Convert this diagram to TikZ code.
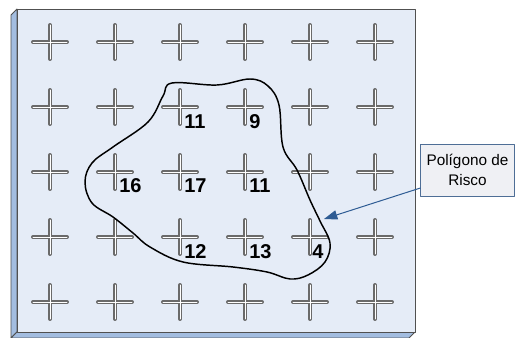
\documentclass[tikz,border=0pt]{standalone}
\usepackage{fontspec}
\setmainfont{Liberation Sans}
\usetikzlibrary{arrows.meta}
\definecolor{facefill}{HTML}{E5ECF7}
\definecolor{sidefill}{HTML}{A3BDE0}
\definecolor{edgegray}{HTML}{505050}
\definecolor{crossgray}{HTML}{6A6A6A}
\definecolor{boxfill}{HTML}{EFF0F4}
\definecolor{boxline}{HTML}{4E6E96}
\definecolor{arrowblue}{HTML}{2E5C94}

\begin{document}
\begin{tikzpicture}[x=0.75pt,y=-0.75pt,line join=round,
  crossmark/.style={draw=crossgray,line width=1.2pt,double=white,double distance=0.55pt,line cap=round},
  numlabel/.style={anchor=west,inner sep=0pt,font=\fontsize{15}{16}\selectfont\bfseries},
  riskbox/.style={draw=boxline,fill=boxfill,line width=0.6pt,minimum width=70pt,minimum height=39pt,align=center,font=\fontsize{11.5}{15}\selectfont}]
\useasboundingbox (0,0) rectangle (515,338);
% panel
\filldraw[fill=sidefill,draw=edgegray,line width=0.6pt] (11,15) -- (17,9) -- (17,332) -- (11,338) -- cycle;
\filldraw[fill=sidefill,draw=edgegray,line width=0.6pt] (11,338) -- (17,332) -- (415,332) -- (409,338) -- cycle;
\filldraw[fill=facefill,draw=edgegray,line width=0.6pt] (17,9) rectangle (415,332);
% crosses
\foreach \i in {1,...,6}
  \foreach \j in {1,...,5}
    \coordinate (c\i\j) at ({50+65*(\i-1)},{42+65*(\j-1)});
\foreach \i in {1,...,6}
  \foreach \j in {1,...,5}
    \draw[crossmark] (c\i\j) ++(-17,0) -- ++(34,0) (c\i\j) ++(0,-17) -- ++(0,34);
% risk polygon
\draw[line width=1.1pt] plot[smooth cycle,tension=0.6] coordinates {
  (172,83) (217,85) (250,79) (268,86) (279,105) (283,147) (297,170)
  (310,200) (320,221) (330,243) (325,262) (308,275) (290,279) (267,272)
  (233,267) (183,262) (150,247) (133,233) (113,217) (92,203) (85,182)
  (92,163) (113,147) (148,122) (163,96)};
% values
\node[numlabel] (v11a) at ([shift={(4,15)}]c32) {11};
\node[numlabel] (v9) at ([shift={(4,15)}]c42) {9};
\node[numlabel] (v16) at ([shift={(4,14)}]c23) {16};
\node[numlabel] (v17) at ([shift={(4,14)}]c33) {17};
\node[numlabel] (v11b) at ([shift={(4,14)}]c43) {11};
\node[numlabel] (v12) at ([shift={(4,15)}]c34) {12};
\node[numlabel] (v13) at ([shift={(4,15)}]c44) {13};
\node[numlabel] (v4) at ([shift={(2,15)}]c54) {4};
% callout
\node[riskbox] (risk) at (467.5,170) {Polígono de\\Risco};
\coordinate (tip) at (324,219);
\draw[-{Triangle[length=10pt,width=7pt]},arrowblue,line width=0.75pt] ([shift={(0,18)}]risk.west) -- (tip);
\end{tikzpicture}
\end{document}
